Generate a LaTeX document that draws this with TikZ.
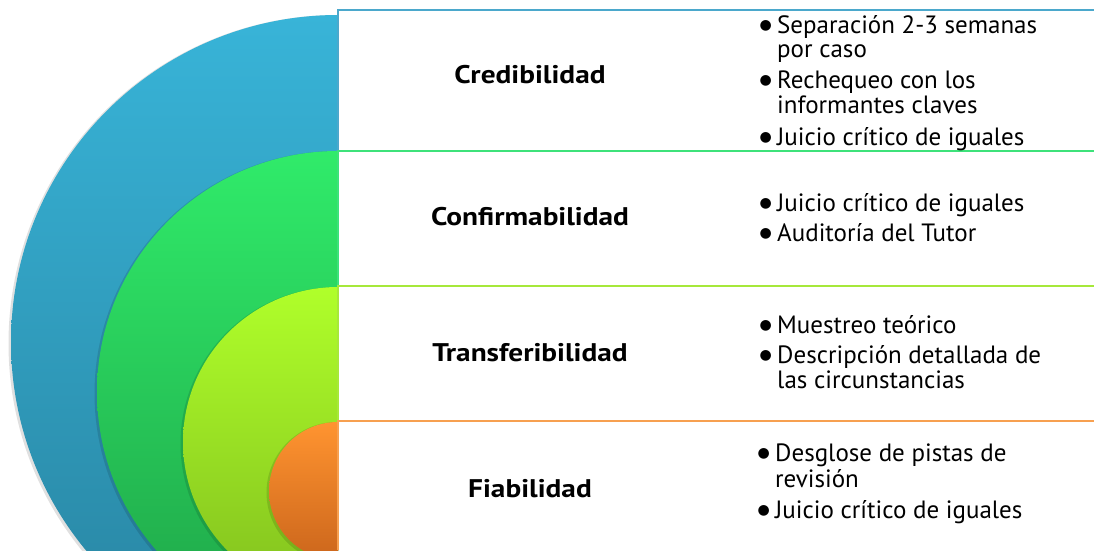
\documentclass[tikz,border=0pt]{standalone}
\usepackage{fontspec}
\setmainfont{PT Sans}
\newfontfamily\titlefont{PT Sans}[FakeStretch=1.15]
\newfontfamily\symfont{DejaVu Sans}
\definecolor{blueA}{HTML}{38B4D8}
\definecolor{blueB}{HTML}{2883A0}
\definecolor{greenA}{HTML}{30EB6A}
\definecolor{greenB}{HTML}{1FA548}
\definecolor{limeA}{HTML}{B0FF2A}
\definecolor{limeB}{HTML}{82C01E}
\definecolor{orA}{HTML}{FF9430}
\definecolor{orB}{HTML}{CC661C}
\definecolor{blueL}{HTML}{4BA8CC}
\definecolor{greenL}{HTML}{3DE27A}
\definecolor{limeL}{HTML}{A6E83A}
\definecolor{orL}{HTML}{F7A050}
\newcommand{\bul}{\makebox[18pt][l]{\hspace{0.5pt}\raisebox{4pt}{\symfont\fontsize{14}{14}\selectfont ●}}}
\begin{document}
\begin{tikzpicture}[x=1pt,y=-1pt,
  title/.style={font=\titlefont\fontsize{25.5}{26}\selectfont\bfseries, inner sep=0pt, anchor=base},
  item/.style={font=\fontsize{25}{26}\selectfont, inner sep=0pt, anchor=base west},
  rowline/.style={line width=2pt},
  shadowc/.style={fill=black, opacity=0.12}]
\useasboundingbox (0,0) rectangle (1094,550);
\fill[white] (0,0) rectangle (1094,550);
\begin{scope}
  \clip (0,0) rectangle (338,550);
  \fill[shadowc] (337,343.5) circle[radius=328.5];
  \shade[top color=blueA, bottom color=blueB] (338,342) circle[radius=327];
  \fill[shadowc] (337,393.5) circle[radius=242.5];
  \shade[top color=greenA, bottom color=greenB] (338,392) circle[radius=241];
  \fill[shadowc] (337,443.5) circle[radius=156.5];
  \shade[top color=limeA, bottom color=limeB] (338,442) circle[radius=155];
  \fill[shadowc] (337,492.5) circle[radius=70.5];
  \shade[top color=orA, bottom color=orB] (338,491) circle[radius=69];
\end{scope}
% row frames
\coordinate (r1) at (338,10);
\coordinate (r1e) at (1094,10);
\coordinate (r2) at (338,151);
\coordinate (r2e) at (1094,151);
\coordinate (r3) at (338,286);
\coordinate (r3e) at (1094,286);
\coordinate (r4) at (338,421);
\coordinate (r4e) at (1094,421);
\coordinate (r5) at (338,550);
\draw[rowline, blueL] (r2) -- (r1) -- (r1e);
\draw[rowline, greenL] (r3) -- (r2) -- (r2e);
\draw[rowline, limeL] (r4) -- (r3) -- (r3e);
\draw[rowline, orL] (r5) -- (r4) -- (r4e);
% titles
\node[title] (t1) at (530,83) {Credibilidad};
\node[title] (t2) at (530,225) {Confirmabilidad};
\node[title] (t3) at (530,361) {Transferibilidad};
\node[title] (t4) at (530,497) {Fiabilidad};
% row 1
\node[item] (a1) at (759,33) {\bul Separación 2-3 semanas};
\node[item] (a2) at (777,57) {por caso};
\node[item] (a3) at (759,88) {\bul Rechequeo con los};
\node[item] (a4) at (777,113) {informantes claves};
\node[item] (a5) at (759,145) {\bul Juicio crítico de iguales};
% row 2
\node[item] (b1) at (759,211) {\bul Juicio crítico de iguales};
\node[item] (b2) at (759,241) {\bul Auditoría del Tutor};
% row 3
\node[item] (c1) at (759,333) {\bul Muestreo teórico};
\node[item] (c2) at (759,363) {\bul Descripción detallada de};
\node[item] (c3) at (777,388) {las circunstancias};
% row 4
\node[item] (d1) at (757,461) {\bul Desglose de pistas de};
\node[item] (d2) at (775,487) {revisión};
\node[item] (d3) at (757,518) {\bul Juicio crítico de iguales};
\end{tikzpicture}
\end{document}
